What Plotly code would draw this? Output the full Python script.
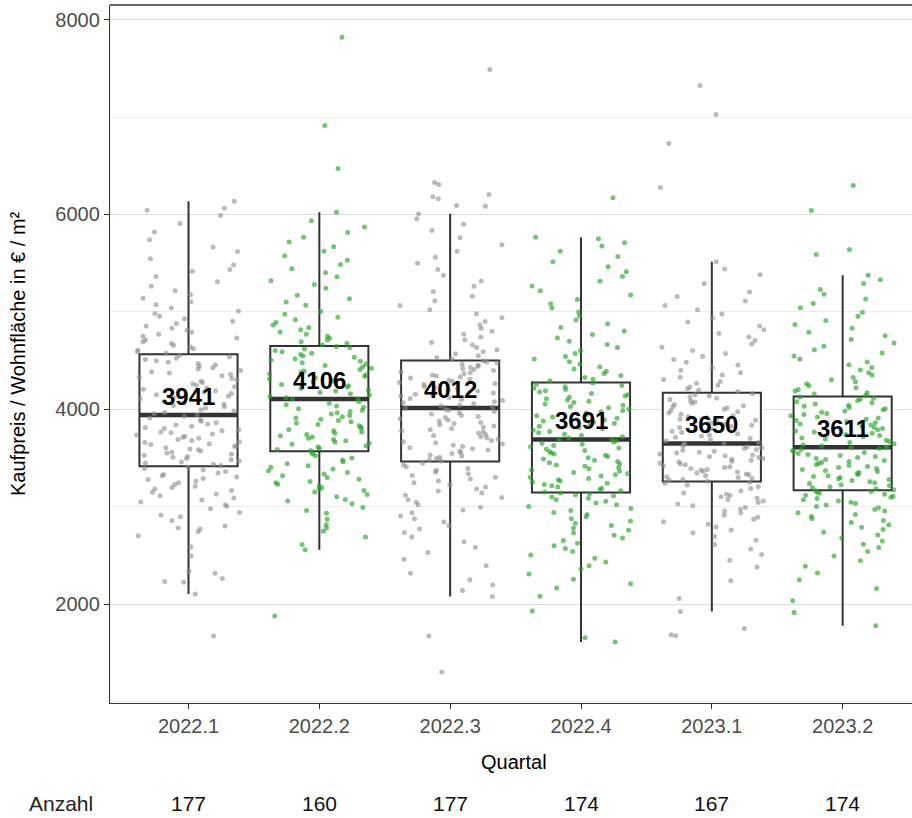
import numpy as np
import plotly.graph_objects as go

# Quarters, sample sizes and box statistics (EUR per m² living area)
quartale = ["2022.1", "2022.2", "2022.3", "2022.4", "2023.1", "2023.2"]
anzahl = [177, 160, 177, 174, 167, 174]
median = [3941, 4106, 4012, 3691, 3650, 3611]
q1 = [3415, 3569, 3463, 3146, 3258, 3169]
q3 = [4564, 4649, 4502, 4274, 4171, 4130]
whisker_lo = [2103, 2557, 2079, 1610, 1925, 1778]
whisker_hi = [6136, 6023, 6007, 5767, 5515, 5377]

# Individual sales, price per m², one list per quarter
preise_2022_1 = [
    1672, 2103, 2225, 2231, 2262, 2318, 2341, 2495, 2588, 2702, 2745, 2770, 2781, 2803, 2856,
    2897, 2915, 2940, 2978, 3005, 3021, 3047, 3068, 3089, 3112, 3130, 3148, 3166, 3181, 3197,
    3210, 3228, 3246, 3262, 3279, 3290, 3305, 3318, 3331, 3347, 3362, 3378, 3391, 3404,
    3422, 3436, 3449, 3458, 3470, 3483, 3495, 3507, 3516, 3528, 3539, 3551, 3560, 3572, 3584,
    3593, 3605, 3617, 3626, 3638, 3647, 3659, 3668, 3680, 3691, 3702, 3714, 3723, 3735, 3746,
    3758, 3767, 3779, 3790, 3802, 3814, 3826, 3838, 3850, 3862, 3877, 3893, 3910, 3928,
    3941,
    3955, 3968, 3982, 3996, 4010, 4025, 4039, 4052, 4066, 4080, 4094, 4108, 4121, 4135, 4150,
    4163, 4177, 4191, 4205, 4218, 4232, 4246, 4260, 4274, 4288, 4302, 4316, 4330, 4344, 4358,
    4372, 4386, 4399, 4413, 4427, 4441, 4455, 4469, 4483, 4497, 4511, 4525, 4540, 4555,
    4575, 4590, 4606, 4622, 4640, 4657, 4675, 4694, 4712, 4731, 4750, 4770, 4790, 4812, 4833,
    4856, 4880, 4904, 4929, 4955, 4982, 5010, 5040, 5072, 5105, 5140, 5178, 5218, 5262, 5310,
    5362, 5418, 5436, 5480, 5545, 5620, 5665, 5740, 5820, 5907, 5990, 6044, 6063, 6136,
]
preise_2022_2 = [
    1877, 2557, 2611, 2690, 2748, 2781, 2815, 2870, 2934, 2962, 2991, 3030, 3058, 3075, 3101,
    3124, 3150, 3166, 3182, 3198, 3215, 3230, 3246, 3259, 3281, 3300, 3318, 3335, 3352, 3370,
    3388, 3405, 3420, 3441, 3462, 3480, 3501, 3522, 3540, 3558,
    3575, 3588, 3601, 3613, 3626, 3640, 3652, 3665, 3677, 3690, 3703, 3716, 3729, 3741, 3754,
    3768, 3780, 3793, 3806, 3819, 3832, 3845, 3858, 3871, 3884, 3897, 3910, 3924, 3937, 3951,
    3964, 3978, 3991, 4005, 4019, 4033, 4047, 4062, 4077, 4106,
    4106, 4119, 4132, 4146, 4160, 4173, 4187, 4200, 4214, 4228, 4241, 4255, 4269, 4282, 4296,
    4310, 4324, 4338, 4352, 4366, 4380, 4394, 4408, 4422, 4436, 4450, 4464, 4478, 4492, 4506,
    4520, 4534, 4548, 4562, 4576, 4590, 4604, 4618, 4632, 4645,
    4660, 4676, 4693, 4711, 4730, 4750, 4771, 4793, 4816, 4840, 4865, 4891, 4918, 4946, 4975,
    5005, 5068, 5101, 5135, 5170, 5243, 5281, 5320, 5360, 5401, 5443, 5486, 5530, 5575, 5621,
    5668, 5716, 5765, 5815, 5870, 5935, 6023, 6472, 6913, 7820,
]
preise_2022_3 = [
    1303, 1672, 2079, 2140, 2195, 2250, 2318, 2395, 2460, 2530, 2585, 2640, 2690, 2735, 2770,
    2805, 2842, 2876, 2905, 2938, 2966, 2995, 3020, 3046, 3072, 3095, 3118, 3140, 3161, 3182,
    3203, 3224, 3246, 3265, 3284, 3302, 3320, 3338, 3356, 3374, 3392, 3410, 3428, 3447,
    3470, 3483, 3495, 3508, 3520, 3532, 3545, 3557, 3569, 3582, 3594, 3606, 3619, 3631, 3643,
    3656, 3668, 3680, 3693, 3705, 3717, 3730, 3742, 3754, 3767, 3779, 3791, 3804, 3816, 3828,
    3841, 3853, 3865, 3878, 3890, 3902, 3915, 3927, 3939, 3952, 3964, 3976, 3989, 4001,
    4012,
    4023, 4034, 4045, 4056, 4067, 4078, 4089, 4100, 4111, 4122, 4133, 4144, 4155, 4166, 4177,
    4188, 4199, 4210, 4221, 4232, 4243, 4254, 4265, 4276, 4287, 4298, 4309, 4320, 4331, 4342,
    4353, 4364, 4375, 4386, 4397, 4408, 4419, 4430, 4441, 4452, 4463, 4474, 4485, 4496,
    4515, 4532, 4550, 4569, 4590, 4612, 4635, 4660, 4686, 4713, 4741, 4770, 4800, 4832, 4866,
    4902, 4940, 4980, 5022, 5066, 5112, 5160, 5210, 5262, 5318, 5376, 5436, 5498, 5560, 5622,
    5688, 5760, 5835, 5900, 5955, 6007, 6085, 6092, 6161, 6182, 6205, 6308, 6327, 7487,
]
preise_2022_4 = [
    1610, 1655, 1930, 2080, 2165, 2210, 2255, 2310, 2360, 2395, 2432, 2470, 2505, 2540, 2570,
    2598, 2625, 2652, 2680, 2706, 2733, 2758, 2782, 2806, 2830, 2853, 2876, 2898, 2920, 2941,
    2962, 2982, 3001, 3020, 3038, 3055, 3071, 3086, 3100, 3112, 3123, 3133, 3141,
    3152, 3165, 3177, 3190, 3202, 3215, 3227, 3240, 3252, 3265, 3277, 3290, 3302, 3315, 3327,
    3340, 3352, 3365, 3377, 3390, 3402, 3415, 3427, 3440, 3452, 3465, 3477, 3490, 3502, 3515,
    3527, 3540, 3552, 3565, 3577, 3590, 3602, 3615, 3627, 3640, 3652, 3665, 3678,
    3691, 3691,
    3704, 3718, 3731, 3745, 3758, 3772, 3785, 3799, 3812, 3826, 3839, 3853, 3866, 3880, 3893,
    3907, 3920, 3934, 3947, 3961, 3974, 3988, 4001, 4015, 4028, 4042, 4055, 4069, 4082, 4096,
    4109, 4123, 4136, 4150, 4163, 4177, 4190, 4204, 4217, 4231, 4244, 4258, 4270,
    4290, 4308, 4327, 4347, 4368, 4390, 4413, 4437, 4462, 4488, 4515, 4543, 4572, 4602, 4633,
    4665, 4698, 4732, 4767, 4803, 4840, 4878, 4917, 4957, 4998, 5040, 5083, 5127, 5172, 5218,
    5265, 5313, 5362, 5412, 5463, 5515, 5568, 5622, 5677, 5709, 5750, 5767, 6171,
]
preise_2023_1 = [
    1675, 1685, 1751, 1925, 2058, 2240, 2380, 2450, 2510, 2565, 2612, 2655, 2695, 2730, 2762,
    2792, 2820, 2846, 2870, 2893, 2915, 2936, 2956, 2975, 2993, 3010, 3027, 3043, 3058, 3073,
    3087, 3101, 3114, 3127, 3140, 3163, 3186, 3205, 3223, 3240, 3252,
    3262, 3271, 3280, 3290, 3299, 3308, 3318, 3327, 3336, 3346, 3355, 3364, 3374, 3383, 3392,
    3402, 3411, 3420, 3430, 3439, 3448, 3458, 3467, 3476, 3486, 3495, 3504, 3514, 3523, 3532,
    3542, 3551, 3560, 3570, 3579, 3588, 3598, 3607, 3616, 3626, 3635, 3644,
    3650,
    3662, 3675, 3687, 3700, 3712, 3725, 3737, 3750, 3762, 3775, 3787, 3800, 3812, 3825, 3837,
    3850, 3862, 3875, 3887, 3900, 3912, 3925, 3937, 3950, 3962, 3975, 3987, 4000, 4012, 4025,
    4037, 4050, 4062, 4075, 4087, 4100, 4112, 4125, 4137, 4150, 4162,
    4182, 4196, 4212, 4229, 4247, 4266, 4286, 4307, 4329, 4352, 4376, 4401, 4427, 4454, 4482,
    4511, 4541, 4572, 4604, 4637, 4671, 4706, 4742, 4779, 4817, 4856, 4896, 4937, 4979, 5022,
    5066, 5111, 5157, 5204, 5290, 5380, 5440, 5515, 6277, 6728, 7026, 7323,
]
preise_2023_2 = [
    1778, 1915, 2035, 2160, 2250, 2320, 2390, 2445, 2495, 2540, 2580, 2615, 2648, 2680, 2710,
    2738, 2765, 2790, 2814, 2837, 2859, 2880, 2900, 2919, 2937, 2955, 2972, 2988, 3003, 3018,
    3032, 3046, 3059, 3072, 3084, 3096, 3107, 3118, 3128, 3138, 3148, 3157, 3165,
    3175, 3185, 3195, 3206, 3216, 3226, 3237, 3247, 3257, 3268, 3278, 3288, 3299, 3309, 3319,
    3330, 3340, 3350, 3361, 3371, 3381, 3392, 3402, 3412, 3423, 3433, 3443, 3454, 3464, 3474,
    3485, 3495, 3505, 3516, 3526, 3536, 3547, 3557, 3567, 3578, 3588, 3598, 3606,
    3611, 3611,
    3622, 3634, 3646, 3658, 3670, 3682, 3694, 3706, 3718, 3730, 3742, 3754, 3766, 3778, 3790,
    3802, 3814, 3826, 3838, 3850, 3862, 3874, 3886, 3898, 3910, 3922, 3934, 3946, 3958, 3970,
    3982, 3994, 4006, 4018, 4030, 4042, 4054, 4066, 4078, 4090, 4102, 4114, 4126,
    4142, 4156, 4171, 4187, 4204, 4222, 4241, 4261, 4282, 4304, 4327, 4351, 4376, 4402, 4429,
    4457, 4486, 4516, 4547, 4579, 4612, 4646, 4681, 4717, 4754, 4792, 4831, 4871, 4912, 4954,
    4997, 5041, 5086, 5132, 5180, 5230, 5290, 5330, 5377, 5590, 5641, 6041, 6297,
]

preise = [preise_2022_1, preise_2022_2, preise_2022_3,
          preise_2022_4, preise_2023_1, preise_2023_2]

GREY_PT = "rgba(140,140,140,0.6)"
GREEN_PT = "rgba(40,165,40,0.65)"
punkt_farben = [GREY_PT, GREEN_PT, GREY_PT, GREEN_PT, GREY_PT, GREEN_PT]

FONT = "Liberation Sans, Arial, sans-serif"
DARK = "#333333"
BOX_W = 0.75
JITTER_W = 0.4

pos = np.arange(1, len(quartale) + 1)

fig = go.Figure()

# Boxes with precomputed statistics
fig.add_trace(go.Box(
    x=pos, q1=q1, median=median, q3=q3,
    lowerfence=whisker_lo, upperfence=whisker_hi,
    width=BOX_W, whiskerwidth=0, boxpoints=False,
    fillcolor="white", line=dict(color=DARK, width=2),
    hoverinfo="skip", showlegend=False,
))

# Heavier median bars
mx, my = [], []
for p, m in zip(pos, median):
    mx += [p - BOX_W / 2, p + BOX_W / 2, None]
    my += [m, m, None]
fig.add_trace(go.Scatter(x=mx, y=my, mode="lines",
                         line=dict(color=DARK, width=4.5),
                         hoverinfo="skip", showlegend=False))

# Jittered sales points (deterministic hash-based horizontal spread)
for g, (p, werte, farbe) in enumerate(zip(pos, preise, punkt_farben)):
    idx = np.arange(len(werte))
    h = np.sin((idx + 1) * 12.9898 + (g + 1) * 78.233) * 43758.5453
    frac = h - np.floor(h)
    xs = p + (frac - 0.5) * 2 * JITTER_W
    fig.add_trace(go.Scatter(
        x=xs, y=werte, mode="markers",
        marker=dict(size=5, color=farbe, line=dict(width=0)),
        hoverinfo="skip", showlegend=False,
    ))

annotations = []
# Median values above the median bar
for p, m in zip(pos, median):
    annotations.append(dict(
        x=p, y=m, xref="x", yref="y", text=f"<b>{m}</b>",
        showarrow=False, xanchor="center", yanchor="bottom", yshift=3,
        font=dict(family=FONT, size=24, color="black"),
    ))

# Counts row below the axis
annotations.append(dict(
    x=-0.0615, y=-0.1433, xref="paper", yref="paper", text="Anzahl",
    showarrow=False, xanchor="center", yanchor="middle",
    font=dict(family=FONT, size=21, color="#222222"),
))
for p, n in zip(pos, anzahl):
    annotations.append(dict(
        x=p, y=-0.1433, xref="x", yref="paper", text=str(n),
        showarrow=False, xanchor="center", yanchor="middle",
        font=dict(family=FONT, size=21, color="#111111"),
    ))

# Axis titles
annotations.append(dict(
    x=(514 - 110) / 802, y=-0.0845, xref="paper", yref="paper", text="Quartal",
    showarrow=False, xanchor="center", yanchor="middle",
    font=dict(family=FONT, size=20, color="black"),
))
annotations.append(dict(
    x=-0.1147, y=0.5, xref="paper", yref="paper",
    text="Kaufpreis / Wohnfläche in € / m²", textangle=-90,
    showarrow=False, xanchor="center", yanchor="middle",
    font=dict(family=FONT, size=20, color="black"),
))

fig.update_layout(
    width=912, height=818,
    margin=dict(l=110, r=0, t=5, b=115),
    paper_bgcolor="white", plot_bgcolor="white",
    font=dict(family=FONT, size=20, color="#4d4d4d"),
    annotations=annotations,
    shapes=[dict(type="line", xref="paper", yref="paper",
                 x0=0, x1=1, y0=1, y1=1, line=dict(color=DARK, width=1.3))],
)

fig.update_xaxes(
    range=[0.4, 6.53], tickvals=pos, ticktext=quartale,
    showgrid=False, zeroline=False,
    showline=True, linecolor=DARK, linewidth=1.3,
    ticks="outside", ticklen=5, tickwidth=1.3, tickcolor=DARK,
    tickfont=dict(family=FONT, size=20, color="#4d4d4d"),
)
fig.update_yaxes(
    range=[985, 8150], tick0=0, dtick=2000,
    showgrid=True, gridcolor="#dcdcdc", gridwidth=1.3,
    minor=dict(dtick=1000, tick0=0, showgrid=True, gridcolor="#ececec", gridwidth=0.8),
    zeroline=False,
    showline=True, linecolor=DARK, linewidth=1.3,
    ticks="outside", ticklen=5, tickwidth=1.3, tickcolor=DARK,
    tickfont=dict(family=FONT, size=20, color="#4d4d4d"),
)

fig.write_html("out.html")
